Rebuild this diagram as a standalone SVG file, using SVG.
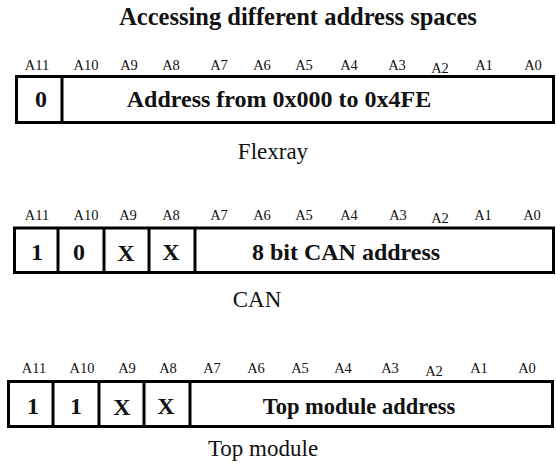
<svg xmlns="http://www.w3.org/2000/svg" width="556" height="466" viewBox="0 0 556 466">
<style>
.box{fill:#fff;stroke:#000;stroke-width:3}
.div{stroke:#000;stroke-width:3}
.title{font-family:"Liberation Serif",serif;font-weight:bold;font-size:24.5px;text-anchor:middle;fill:#111}
.bit{font-family:"Liberation Serif",serif;font-size:14.5px;text-anchor:middle;fill:#111}
.val{font-family:"Liberation Serif",serif;font-weight:bold;font-size:24px;text-anchor:middle;fill:#111}
.cap{font-family:"Liberation Serif",serif;font-size:23px;text-anchor:middle;fill:#111}
</style>
<rect width="556" height="466" fill="#fff"/>
<text class="title" x="298" y="25">Accessing different address spaces</text>

<g id="flexray">
<g class="bit">
<text x="37" y="70">A11</text><text x="86" y="70">A10</text><text x="129" y="70">A9</text><text x="171" y="70">A8</text>
<text x="219" y="70">A7</text><text x="262" y="70">A6</text><text x="304" y="70">A5</text><text x="349" y="70">A4</text>
<text x="397" y="70">A3</text><text x="440" y="73">A2</text><text x="484" y="70">A1</text><text x="533" y="70">A0</text>
</g>
<rect class="box" x="16.5" y="76.5" width="537" height="46"/>
<line class="div" x1="62" y1="76.5" x2="62" y2="122.5"/>
<text class="val" x="41" y="107">0</text>
<text class="val" x="279" y="107">Address from 0x000 to 0x4FE</text>
<text class="cap" x="273" y="159">Flexray</text>
</g>

<g id="can">
<g class="bit">
<text x="37" y="220">A11</text><text x="86" y="220">A10</text><text x="128" y="220">A9</text><text x="171" y="220">A8</text>
<text x="219" y="220">A7</text><text x="262" y="220">A6</text><text x="304" y="220">A5</text><text x="349" y="220">A4</text>
<text x="398" y="220">A3</text><text x="440" y="223">A2</text><text x="483" y="220">A1</text><text x="532" y="220">A0</text>
</g>
<rect class="box" x="14.5" y="228" width="539" height="44.5"/>
<line class="div" x1="58" y1="228" x2="58" y2="272.5"/>
<line class="div" x1="104" y1="228" x2="104" y2="272.5"/>
<line class="div" x1="149" y1="228" x2="149" y2="272.5"/>
<line class="div" x1="195" y1="228" x2="195" y2="272.5"/>
<text class="val" x="37" y="260">1</text>
<text class="val" x="79" y="260">0</text>
<text class="val" x="126" y="261">X</text>
<text class="val" x="171" y="260">X</text>
<text class="val" x="346" y="260">8 bit CAN address</text>
<text class="cap" x="257" y="307">CAN</text>
</g>

<g id="top-module">
<g class="bit">
<text x="34" y="373">A11</text><text x="82" y="373">A10</text><text x="127" y="373">A9</text><text x="168" y="373">A8</text>
<text x="212" y="373">A7</text><text x="256" y="373">A6</text><text x="300" y="373">A5</text><text x="343" y="373">A4</text>
<text x="390" y="373">A3</text><text x="434" y="376">A2</text><text x="479" y="373">A1</text><text x="527" y="373">A0</text>
</g>
<rect class="box" x="8.5" y="381.5" width="544" height="45"/>
<line class="div" x1="53" y1="381.5" x2="53" y2="426.5"/>
<line class="div" x1="99" y1="381.5" x2="99" y2="426.5"/>
<line class="div" x1="144" y1="381.5" x2="144" y2="426.5"/>
<line class="div" x1="190" y1="381.5" x2="190" y2="426.5"/>
<text class="val" x="33" y="414">1</text>
<text class="val" x="76" y="414">1</text>
<text class="val" x="122" y="415">X</text>
<text class="val" x="166" y="414">X</text>
<text class="val" x="359" y="414" style="font-size:22.5px">Top module address</text>
<text class="cap" x="263" y="456">Top module</text>
</g>
</svg>
